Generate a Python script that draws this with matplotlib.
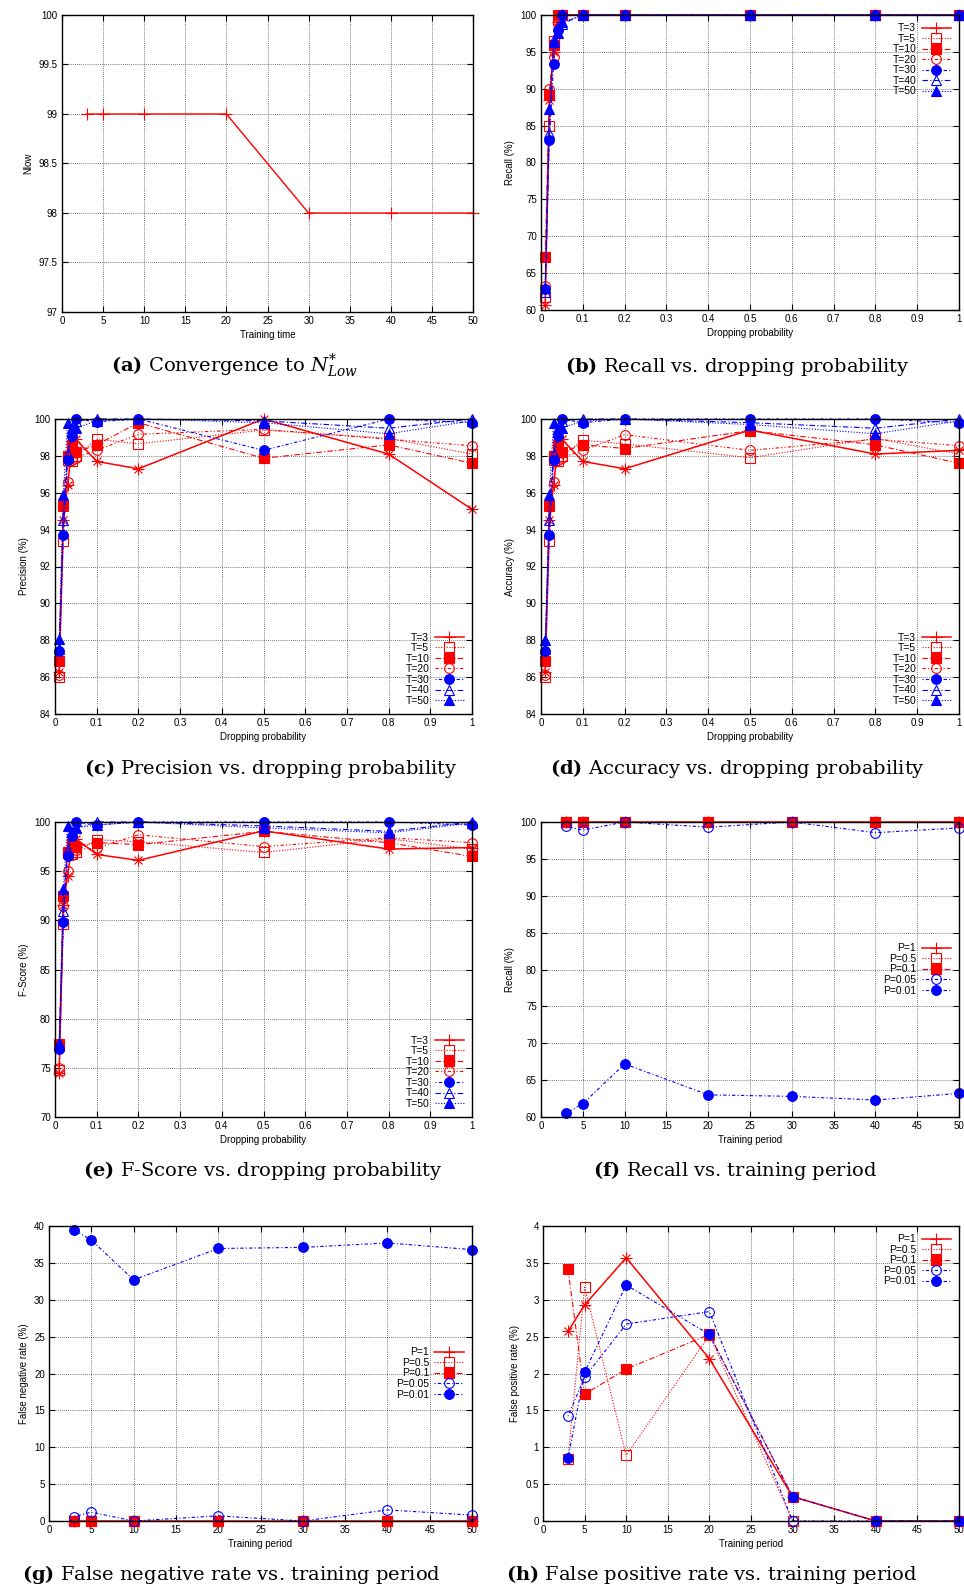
## import libraries for plotting
import matplotlib
matplotlib.use("Agg")
import matplotlib.pyplot as plt
from matplotlib.ticker import MultipleLocator, FormatStrFormatter

plt.rcParams['font.family'] = ['Liberation Sans', 'DejaVu Sans']
plt.rcParams['mathtext.fontset'] = 'dejavuserif'

## ---------------- data ----------------
train = [3, 5, 10, 20, 30, 40, 50]
prob = [0.01, 0.02, 0.03, 0.04, 0.05, 0.1, 0.2, 0.5, 0.8, 1]
t_labels = ['T=3', 'T=5', 'T=10', 'T=20', 'T=30', 'T=40', 'T=50']
p_labels = ['P=1', 'P=0.5', 'P=0.1', 'P=0.05', 'P=0.01']

## (a) convergence
nlow = [99, 99, 99, 99, 98, 98, 98]

## (b) recall vs dropping probability (one list per T)
recall_drop = [
    [60.7, 88.5, 95.0, 99.0, 100, 100, 100, 100, 100, 100],
    [61.7, 84.9, 96.5, 99.5, 100, 100, 100, 100, 100, 100],
    [67.2, 89.2, 95.9, 100, 100, 100, 100, 100, 100, 100],
    [63.2, 89.9, 94.3, 98.8, 100, 100, 100, 100, 100, 100],
    [62.9, 83.1, 93.3, 98.0, 100, 100, 100, 100, 100, 100],
    [62.5, 84.0, 96.8, 98.5, 98.8, 100, 100, 100, 100, 100],
    [63.0, 87.3, 96.4, 97.5, 99.0, 100, 100, 100, 100, 100],
]

## (c) precision vs dropping probability
precision_drop = [
    [86.3, 94.5, 96.4, 98.5, 98.9, 97.7, 97.3, 100, 98.1, 95.1],
    [86.0, 93.4, 97.8, 97.7, 98.0, 98.9, 98.66, 99.4, 98.95, 98.1],
    [86.9, 95.3, 98.0, 98.6, 98.2, 98.6, 99.8, 97.87, 98.6, 97.6],
    [86.1, 95.4, 96.6, 97.8, 97.9, 98.3, 99.17, 99.44, 98.9, 98.55],
    [87.4, 93.7, 97.8, 99.1, 100, 99.85, 100, 98.3, 100, 99.8],
    [87.5, 94.5, 98.1, 99.3, 99.9, 100, 100, 99.9, 99.5, 100],
    [88.05, 95.9, 99.8, 99.5, 99.5, 99.9, 100, 99.8, 99.2, 99.9],
]

## (d) accuracy vs dropping probability
accuracy_drop = [
    [86.3, 94.5, 96.4, 98.5, 98.9, 97.7, 97.3, 99.4, 98.1, 98.3],
    [86.0, 93.4, 97.8, 97.7, 98.0, 98.85, 98.65, 97.9, 98.95, 98.1],
    [86.9, 95.3, 98.0, 98.6, 98.2, 98.6, 98.4, 99.37, 98.6, 97.6],
    [86.1, 95.4, 96.6, 97.8, 97.9, 98.3, 99.15, 98.3, 98.9, 98.55],
    [87.4, 93.7, 97.8, 99.1, 100, 99.8, 100, 100, 100, 99.8],
    [87.5, 94.5, 98.1, 99.3, 99.9, 100, 100, 99.8, 99.5, 100],
    [88.0, 95.9, 99.8, 99.5, 99.5, 99.9, 100, 99.7, 99.2, 99.9],
]

## (e) f-score vs dropping probability
fscore_drop = [
    [74.5, 91.6, 94.5, 97.5, 98.3, 96.7, 96.1, 99.1, 97.25, 97.4],
    [74.75, 89.6, 96.8, 96.7, 97.0, 98.2, 98.0, 96.9, 98.3, 97.25],
    [77.4, 92.5, 96.9, 97.8, 97.5, 97.9, 97.7, 99.05, 97.9, 96.5],
    [75.0, 91.5, 95.0, 96.6, 97.2, 97.35, 98.7, 97.5, 98.4, 97.9],
    [76.9, 89.8, 96.5, 98.6, 100, 99.7, 100, 100, 100, 99.7],
    [77.2, 91.0, 97.2, 99.0, 99.4, 100, 100, 99.6, 99.05, 100],
    [77.5, 93.2, 99.6, 99.0, 99.4, 99.7, 100, 99.4, 98.9, 99.9],
]

## (f) recall vs training period (one list per P)
recall_train = [
    [100, 100, 100, 100, 100, 100, 100],
    [100, 100, 100, 100, 100, 100, 100],
    [100, 100, 100, 100, 100, 100, 100],
    [99.4, 98.9, 100, 99.3, 100, 98.55, 99.2],
    [60.5, 61.8, 67.2, 63.0, 62.8, 62.3, 63.2],
]

## (g) false negative rate vs training period
fnr_train = [
    [0, 0, 0, 0, 0, 0, 0],
    [0, 0, 0, 0, 0, 0, 0],
    [0, 0, 0, 0, 0, 0, 0],
    [0.6, 1.2, 0, 0.7, 0, 1.5, 0.8],
    [39.45, 38.1, 32.7, 36.95, 37.1, 37.7, 36.8],
]

## (h) false positive rate vs training period
fpr_train = [
    [2.57, 2.93, 3.57, 2.2, 0.33, 0, 0],
    [0.84, 3.17, 0.89, 2.52, 0, 0, 0],
    [3.42, 1.72, 2.06, 2.53, 0.33, 0, 0],
    [1.42, 1.95, 2.67, 2.84, 0, 0, 0],
    [0.85, 2.02, 3.2, 2.53, 0.33, 0, 0],
]

## ---------------- styles ----------------
t_styles = [
    dict(color='red', ls='-', lw=1.1, marker='+', mfc='none', ms=8),
    dict(color='red', ls=(0, (1, 1.5)), lw=0.8, marker='s', mfc='none', ms=7),
    dict(color='red', ls=(0, (5, 2, 1, 2)), lw=0.8, marker='s', mfc='red', ms=7),
    dict(color='red', ls=(0, (3, 2, 1, 2, 1, 2)), lw=0.8, marker='o', mfc='none', ms=7),
    dict(color='blue', ls=(0, (1, 2, 3, 2)), lw=0.8, marker='o', mfc='blue', ms=7),
    dict(color='blue', ls=(0, (5, 2, 1, 2)), lw=0.8, marker='^', mfc='none', ms=7),
    dict(color='blue', ls=(0, (1, 1.5)), lw=0.8, marker='^', mfc='blue', ms=7),
]
p_styles = [
    dict(color='red', ls='-', lw=1.1, marker='+', mfc='none', ms=8),
    dict(color='red', ls=(0, (1, 1.5)), lw=0.8, marker='s', mfc='none', ms=7),
    dict(color='red', ls=(0, (5, 2, 1, 2)), lw=0.8, marker='s', mfc='red', ms=7),
    dict(color='blue', ls=(0, (1, 2, 3, 2)), lw=0.8, marker='o', mfc='none', ms=7),
    dict(color='blue', ls=(0, (1, 2, 3, 2)), lw=0.8, marker='o', mfc='blue', ms=7),
]

W, H = 964, 1588
fig = plt.figure(figsize=(W / 100, H / 100), dpi=100)


def add_ax(l, r, t, b):
    ## pixel box -> figure fraction
    return fig.add_axes([l / W, 1 - b / H, (r - l) / W, (b - t) / H])


def setup(ax, xmax, xstep, ymin, ymax, ystep, xlabel, ylabel):
    ax.set_xlim(0, xmax)
    ax.set_ylim(ymin, ymax)
    ax.xaxis.set_major_locator(MultipleLocator(xstep))
    ax.yaxis.set_major_locator(MultipleLocator(ystep))
    ax.xaxis.set_major_formatter(FormatStrFormatter('%g'))
    ax.yaxis.set_major_formatter(FormatStrFormatter('%g'))
    ax.tick_params(direction='in', top=True, right=True, labelsize=7,
                   length=4, width=0.8, pad=3)
    ax.grid(True, color='0.3', ls=(0, (1, 1.5)), lw=0.6)
    ax.set_axisbelow(True)
    for s in ax.spines.values():
        s.set_linewidth(1.0)
    ax.set_xlabel(xlabel, fontsize=7, labelpad=3)
    ax.set_ylabel(ylabel, fontsize=7)


def draw(ax, x, series, labels, styles):
    for y, lab, st in zip(series, labels, styles):
        ax.plot(x, y, label=lab, mew=0.8, clip_on=False, **st)
        ## first series gets an asterisk at its points
        if st['marker'] == '+':
            ax.plot(x, y, ls='none', marker='x', color=st['color'], ms=6,
                    mew=0.8, clip_on=False)


def legend(ax, loc):
    ax.legend(loc=loc, fontsize=7.5, markerfirst=False, frameon=False,
              handlelength=2.8, labelspacing=0.05, handletextpad=0.5,
              borderaxespad=0.4)


def caption(x, y, letter, text):
    fig.text(x / W, 1 - y / H, r'$\mathbf{(' + letter + ')}$' + text,
             family='DejaVu Serif', fontsize=14, ha='center', va='center')


## (a) convergence
ax = add_ax(62, 473, 15, 312)
setup(ax, 50, 5, 97, 100, 0.5, 'Training time', 'Nlow')
ax.plot(train, nlow, color='red', lw=1.0, marker='+', ms=8, mew=0.8, clip_on=False)
caption(235, 366, 'a', r' Convergence to $N^{*}_{Low}$')

## (b) recall vs dropping probability
ax = add_ax(541, 959, 15, 310)
setup(ax, 1, 0.1, 60, 100, 5, 'Dropping probability', 'Recall (%)')
draw(ax, prob, recall_drop, t_labels, t_styles)
legend(ax, 'upper right')
caption(737, 366, 'b', ' Recall vs. dropping probability')

## (c) precision
ax = add_ax(55, 472, 419, 714)
setup(ax, 1, 0.1, 84, 100, 2, 'Dropping probability', 'Precision (%)')
draw(ax, prob, precision_drop, t_labels, t_styles)
legend(ax, 'lower right')
caption(271, 768, 'c', ' Precision vs. dropping probability')

## (d) accuracy
ax = add_ax(541, 959, 419, 714)
setup(ax, 1, 0.1, 84, 100, 2, 'Dropping probability', 'Accuracy (%)')
draw(ax, prob, accuracy_drop, t_labels, t_styles)
legend(ax, 'lower right')
caption(737, 768, 'd', ' Accuracy vs. dropping probability')

## (e) f-score
ax = add_ax(55, 472, 822, 1117)
setup(ax, 1, 0.1, 70, 100, 5, 'Dropping probability', 'F-Score (%)')
draw(ax, prob, fscore_drop, t_labels, t_styles)
legend(ax, 'lower right')
caption(263, 1171, 'e', ' F-Score vs. dropping probability')

## (f) recall vs training period
ax = add_ax(541, 959, 822, 1117)
setup(ax, 50, 5, 60, 100, 5, 'Training period', 'Recall (%)')
draw(ax, train, recall_train, p_labels, p_styles)
legend(ax, 'center right')
caption(735, 1171, 'f', ' Recall vs. training period')

## (g) false negative rate
ax = add_ax(49, 472, 1226, 1521)
setup(ax, 50, 5, 0, 40, 5, 'Training period', 'False negative rate (%)')
draw(ax, train, fnr_train, p_labels, p_styles)
legend(ax, 'center right')
caption(231, 1575, 'g', ' False negative rate vs. training period')

## (h) false positive rate
ax = add_ax(543, 959, 1226, 1521)
setup(ax, 50, 5, 0, 4, 0.5, 'Training period', 'False positive rate (%)')
draw(ax, train, fpr_train, p_labels, p_styles)
legend(ax, 'upper right')
caption(712, 1575, 'h', ' False positive rate vs. training period')

fig.savefig('out.png', dpi=100)
